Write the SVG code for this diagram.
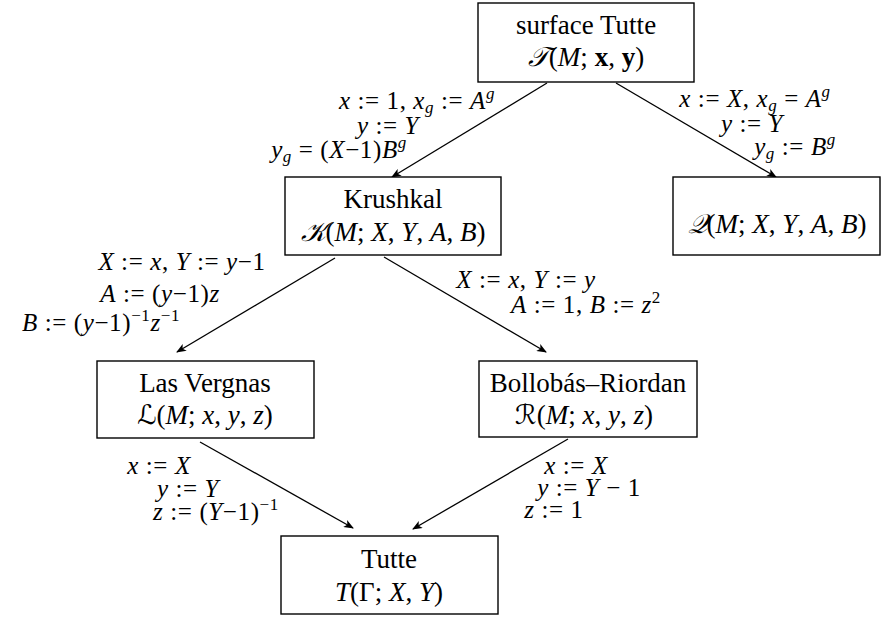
<svg xmlns="http://www.w3.org/2000/svg" width="881" height="617" viewBox="0 0 881 617">
<style>
.box{fill:#fff;stroke:#000;stroke-width:1.4}
.t{font-family:"Liberation Serif",serif;font-size:27px;text-anchor:middle;fill:#000}
.m{font-family:"Liberation Serif",serif;font-size:25px;letter-spacing:0.6px;text-anchor:middle;fill:#000}
.i{font-style:italic}
.b{font-weight:bold}
.s{font-size:17px}
.cal{font-family:"DejaVu Serif","DejaVu Sans",serif;font-style:italic}
.e{fill:none;stroke:#000;stroke-width:1.3;marker-end:url(#ah)}
</style>
<defs>
<marker id="ah" viewBox="0 0 10 8" refX="9" refY="4" markerWidth="10" markerHeight="8" markerUnits="userSpaceOnUse" orient="auto">
<path d="M0,0 L10,4 L0,8 L2.5,4 z" fill="#000"/>
</marker>
</defs>

<g id="edges">
<line class="e" x1="547" y1="83" x2="392" y2="177"/>
<line class="e" x1="616" y1="83" x2="776" y2="177"/>
<line class="e" x1="335" y1="258" x2="177" y2="352"/>
<line class="e" x1="384" y1="257" x2="546" y2="352"/>
<line class="e" x1="200" y1="442" x2="353" y2="528"/>
<line class="e" x1="568" y1="439" x2="413" y2="529"/>
</g>

<g id="edge-labels">
<text class="m" x="417" y="109"><tspan class="i">x</tspan> := 1, <tspan class="i">x</tspan><tspan class="i s" dy="4">g</tspan><tspan dy="-4"> := </tspan><tspan class="i">A</tspan><tspan class="i s" dy="-10">g</tspan></text>
<text class="m" x="388" y="134"><tspan class="i">y</tspan> := <tspan class="i">Y</tspan></text>
<text class="m" x="339" y="158"><tspan class="i">y</tspan><tspan class="i s" dy="4">g</tspan><tspan dy="-4"> = (</tspan><tspan class="i">X</tspan>−1)<tspan class="i">B</tspan><tspan class="i s" dy="-10">g</tspan></text>

<text class="m" x="755" y="107"><tspan class="i">x</tspan> := <tspan class="i">X</tspan>, <tspan class="i">x</tspan><tspan class="i s" dy="4">g</tspan><tspan dy="-4"> = </tspan><tspan class="i">A</tspan><tspan class="i s" dy="-10">g</tspan></text>
<text class="m" x="752" y="132"><tspan class="i">y</tspan> := <tspan class="i">Y</tspan></text>
<text class="m" x="795" y="155"><tspan class="i">y</tspan><tspan class="i s" dy="4">g</tspan><tspan dy="-4"> := </tspan><tspan class="i">B</tspan><tspan class="i s" dy="-10">g</tspan></text>

<text class="m" x="182" y="270"><tspan class="i">X</tspan> := <tspan class="i">x</tspan>, <tspan class="i">Y</tspan> := <tspan class="i">y</tspan>−1</text>
<text class="m" x="160" y="302"><tspan class="i">A</tspan> := (<tspan class="i">y</tspan>−1)<tspan class="i">z</tspan></text>
<text class="m" x="101" y="331"><tspan class="i">B</tspan> := (<tspan class="i">y</tspan>−1)<tspan class="s" dy="-10">−1</tspan><tspan class="i" dy="10">z</tspan><tspan class="s" dy="-10">−1</tspan></text>

<text class="m" x="526" y="288"><tspan class="i">X</tspan> := <tspan class="i">x</tspan>, <tspan class="i">Y</tspan> := <tspan class="i">y</tspan></text>
<text class="m" x="586" y="313"><tspan class="i">A</tspan> := 1,  <tspan class="i">B</tspan> := <tspan class="i">z</tspan><tspan class="s" dy="-10">2</tspan></text>

<text class="m" x="159" y="474"><tspan class="i">x</tspan> := <tspan class="i">X</tspan></text>
<text class="m" x="188" y="497"><tspan class="i">y</tspan> := <tspan class="i">Y</tspan></text>
<text class="m" x="216" y="520"><tspan class="i">z</tspan> := (<tspan class="i">Y</tspan>−1)<tspan class="s" dy="-10">−1</tspan></text>

<text class="m" x="576" y="474"><tspan class="i">x</tspan> := <tspan class="i">X</tspan></text>
<text class="m" x="589" y="496"><tspan class="i">y</tspan> := <tspan class="i">Y</tspan> − 1</text>
<text class="m" x="554" y="518"><tspan class="i">z</tspan> := 1</text>
</g>

<g id="surface-tutte">
<rect class="box" x="478" y="3" width="216" height="79"/>
<text class="t" x="586" y="34">surface Tutte</text>
<text class="t" x="586" y="66"><tspan class="cal">𝒯</tspan>(<tspan class="i">M</tspan>; <tspan class="b">x</tspan>, <tspan class="b">y</tspan>)</text>
</g>

<g id="krushkal">
<rect class="box" x="285" y="177" width="216" height="78"/>
<text class="t" x="393" y="208">Krushkal</text>
<text class="t" x="393" y="241"><tspan class="cal">𝒦</tspan>(<tspan class="i">M</tspan>; <tspan class="i">X</tspan>, <tspan class="i">Y</tspan>, <tspan class="i">A</tspan>, <tspan class="i">B</tspan>)</text>
</g>

<g id="q">
<rect class="box" x="673" y="177" width="207" height="78"/>
<text class="t" x="777" y="233"><tspan class="cal">𝒬</tspan>(<tspan class="i">M</tspan>; <tspan class="i">X</tspan>, <tspan class="i">Y</tspan>, <tspan class="i">A</tspan>, <tspan class="i">B</tspan>)</text>
</g>

<g id="las-vergnas">
<rect class="box" x="97" y="361" width="217" height="77"/>
<text class="t" x="205" y="392">Las Vergnas</text>
<text class="t" x="205" y="424"><tspan class="cal">ℒ</tspan>(<tspan class="i">M</tspan>; <tspan class="i">x</tspan>, <tspan class="i">y</tspan>, <tspan class="i">z</tspan>)</text>
</g>

<g id="bollobas-riordan">
<rect class="box" x="479" y="361" width="218" height="76"/>
<text class="t" x="588" y="392">Bollobás–Riordan</text>
<text class="t" x="584" y="424"><tspan class="cal">ℛ</tspan>(<tspan class="i">M</tspan>; <tspan class="i">x</tspan>, <tspan class="i">y</tspan>, <tspan class="i">z</tspan>)</text>
</g>

<g id="tutte">
<rect class="box" x="281" y="536" width="217" height="78"/>
<text class="t" x="389" y="568">Tutte</text>
<text class="t" x="389" y="601"><tspan class="i">T</tspan>(Γ; <tspan class="i">X</tspan>, <tspan class="i">Y</tspan>)</text>
</g>
</svg>
